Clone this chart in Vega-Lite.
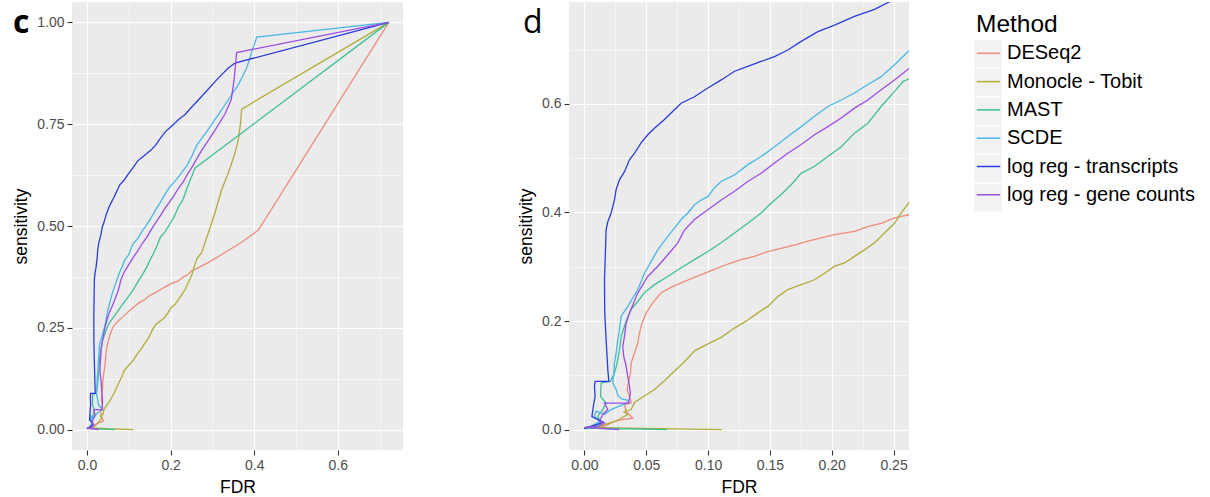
{
  "$schema": "https://vega.github.io/schema/vega-lite/v6.json",
  "padding": {"left": 12, "top": 2, "right": 5, "bottom": 2},
  "background": "white",
  "bounds": "flush",
  "spacing": 166,
  "config": {
    "view": {"fill": "#EBEBEB", "stroke": null},
    "font": "Liberation Sans",
    "axis": {
      "domain": false,
      "gridColor": "#FFFFFF",
      "labelColor": "#4D4D4D",
      "labelFontSize": 14,
      "labelFlush": false,
      "labelOverlap": false,
      "labelBound": false,
      "labelPadding": 3,
      "tickColor": "#333333",
      "tickSize": 5,
      "tickWidth": 1.1,
      "titleFontSize": 17.5,
      "titleFontWeight": "normal",
      "titleColor": "#000000",
      "titlePadding": 6
    }
  },
  "datasets": {
    "curves": [
      {"method":"DESeq2","i":0,"FDR":0,"sens":0.002},
      {"method":"DESeq2","i":1,"FDR":0.0162,"sens":0.006},
      {"method":"DESeq2","i":2,"FDR":0.0243,"sens":0.015},
      {"method":"DESeq2","i":3,"FDR":0.0297,"sens":0.018},
      {"method":"DESeq2","i":4,"FDR":0.0391,"sens":0.021},
      {"method":"DESeq2","i":5,"FDR":0.0337,"sens":0.034},
      {"method":"DESeq2","i":6,"FDR":0.0324,"sens":0.046},
      {"method":"DESeq2","i":7,"FDR":0.0378,"sens":0.049},
      {"method":"DESeq2","i":8,"FDR":0.0364,"sens":0.061},
      {"method":"DESeq2","i":9,"FDR":0.0345,"sens":0.074},
      {"method":"DESeq2","i":10,"FDR":0.0356,"sens":0.086},
      {"method":"DESeq2","i":11,"FDR":0.0372,"sens":0.104},
      {"method":"DESeq2","i":12,"FDR":0.0378,"sens":0.123},
      {"method":"DESeq2","i":13,"FDR":0.0405,"sens":0.141},
      {"method":"DESeq2","i":14,"FDR":0.0432,"sens":0.160},
      {"method":"DESeq2","i":15,"FDR":0.0445,"sens":0.178},
      {"method":"DESeq2","i":16,"FDR":0.0465,"sens":0.196},
      {"method":"DESeq2","i":17,"FDR":0.050,"sens":0.215},
      {"method":"DESeq2","i":18,"FDR":0.055,"sens":0.233},
      {"method":"DESeq2","i":19,"FDR":0.062,"sens":0.252},
      {"method":"DESeq2","i":20,"FDR":0.070,"sens":0.262},
      {"method":"DESeq2","i":21,"FDR":0.080,"sens":0.272},
      {"method":"DESeq2","i":22,"FDR":0.092,"sens":0.283},
      {"method":"DESeq2","i":23,"FDR":0.105,"sens":0.295},
      {"method":"DESeq2","i":24,"FDR":0.116,"sens":0.305},
      {"method":"DESeq2","i":25,"FDR":0.1268,"sens":0.313},
      {"method":"DESeq2","i":26,"FDR":0.1375,"sens":0.319},
      {"method":"DESeq2","i":27,"FDR":0.1483,"sens":0.328},
      {"method":"DESeq2","i":28,"FDR":0.1591,"sens":0.334},
      {"method":"DESeq2","i":29,"FDR":0.1699,"sens":0.340},
      {"method":"DESeq2","i":30,"FDR":0.1807,"sens":0.347},
      {"method":"DESeq2","i":31,"FDR":0.1915,"sens":0.353},
      {"method":"DESeq2","i":32,"FDR":0.2023,"sens":0.359},
      {"method":"DESeq2","i":33,"FDR":0.2184,"sens":0.365},
      {"method":"DESeq2","i":34,"FDR":0.2292,"sens":0.374},
      {"method":"DESeq2","i":35,"FDR":0.240,"sens":0.380},
      {"method":"DESeq2","i":36,"FDR":0.2508,"sens":0.390},
      {"method":"DESeq2","i":37,"FDR":0.263,"sens":0.396},
      {"method":"DESeq2","i":38,"FDR":0.29,"sens":0.41},
      {"method":"DESeq2","i":39,"FDR":0.33,"sens":0.435},
      {"method":"DESeq2","i":40,"FDR":0.37,"sens":0.46},
      {"method":"DESeq2","i":41,"FDR":0.41,"sens":0.49},
      {"method":"DESeq2","i":42,"FDR":0.722,"sens":1.0},

      {"method":"Monocle - Tobit","i":0,"FDR":0.111,"sens":0},
      {"method":"Monocle - Tobit","i":1,"FDR":0,"sens":0.004},
      {"method":"Monocle - Tobit","i":2,"FDR":0.012,"sens":0.006},
      {"method":"Monocle - Tobit","i":3,"FDR":0.0243,"sens":0.015},
      {"method":"Monocle - Tobit","i":4,"FDR":0.0297,"sens":0.021},
      {"method":"Monocle - Tobit","i":5,"FDR":0.035,"sens":0.028},
      {"method":"Monocle - Tobit","i":6,"FDR":0.032,"sens":0.033},
      {"method":"Monocle - Tobit","i":7,"FDR":0.0378,"sens":0.037},
      {"method":"Monocle - Tobit","i":8,"FDR":0.0405,"sens":0.05},
      {"method":"Monocle - Tobit","i":9,"FDR":0.0485,"sens":0.062},
      {"method":"Monocle - Tobit","i":10,"FDR":0.0566,"sens":0.074},
      {"method":"Monocle - Tobit","i":11,"FDR":0.0647,"sens":0.09},
      {"method":"Monocle - Tobit","i":12,"FDR":0.0728,"sens":0.108},
      {"method":"Monocle - Tobit","i":13,"FDR":0.0809,"sens":0.125},
      {"method":"Monocle - Tobit","i":14,"FDR":0.089,"sens":0.145},
      {"method":"Monocle - Tobit","i":15,"FDR":0.0998,"sens":0.158},
      {"method":"Monocle - Tobit","i":16,"FDR":0.1106,"sens":0.17},
      {"method":"Monocle - Tobit","i":17,"FDR":0.1214,"sens":0.187},
      {"method":"Monocle - Tobit","i":18,"FDR":0.1321,"sens":0.202},
      {"method":"Monocle - Tobit","i":19,"FDR":0.1402,"sens":0.215},
      {"method":"Monocle - Tobit","i":20,"FDR":0.1483,"sens":0.227},
      {"method":"Monocle - Tobit","i":21,"FDR":0.1564,"sens":0.245},
      {"method":"Monocle - Tobit","i":22,"FDR":0.1645,"sens":0.258},
      {"method":"Monocle - Tobit","i":23,"FDR":0.1753,"sens":0.267},
      {"method":"Monocle - Tobit","i":24,"FDR":0.1861,"sens":0.276},
      {"method":"Monocle - Tobit","i":25,"FDR":0.1942,"sens":0.288},
      {"method":"Monocle - Tobit","i":26,"FDR":0.2023,"sens":0.301},
      {"method":"Monocle - Tobit","i":27,"FDR":0.2104,"sens":0.307},
      {"method":"Monocle - Tobit","i":28,"FDR":0.2184,"sens":0.319},
      {"method":"Monocle - Tobit","i":29,"FDR":0.2265,"sens":0.331},
      {"method":"Monocle - Tobit","i":30,"FDR":0.2346,"sens":0.344},
      {"method":"Monocle - Tobit","i":31,"FDR":0.2427,"sens":0.362},
      {"method":"Monocle - Tobit","i":32,"FDR":0.2508,"sens":0.38},
      {"method":"Monocle - Tobit","i":33,"FDR":0.2562,"sens":0.399},
      {"method":"Monocle - Tobit","i":34,"FDR":0.263,"sens":0.42},
      {"method":"Monocle - Tobit","i":35,"FDR":0.274,"sens":0.434},
      {"method":"Monocle - Tobit","i":36,"FDR":0.29,"sens":0.483},
      {"method":"Monocle - Tobit","i":37,"FDR":0.306,"sens":0.532},
      {"method":"Monocle - Tobit","i":38,"FDR":0.322,"sens":0.589},
      {"method":"Monocle - Tobit","i":39,"FDR":0.338,"sens":0.63},
      {"method":"Monocle - Tobit","i":40,"FDR":0.354,"sens":0.679},
      {"method":"Monocle - Tobit","i":41,"FDR":0.362,"sens":0.712},
      {"method":"Monocle - Tobit","i":42,"FDR":0.367,"sens":0.75},
      {"method":"Monocle - Tobit","i":43,"FDR":0.37,"sens":0.787},
      {"method":"Monocle - Tobit","i":44,"FDR":0.722,"sens":1.0},

      {"method":"MAST","i":0,"FDR":0.067,"sens":0},
      {"method":"MAST","i":1,"FDR":0,"sens":0.003},
      {"method":"MAST","i":2,"FDR":0.0081,"sens":0.006},
      {"method":"MAST","i":3,"FDR":0.0135,"sens":0.012},
      {"method":"MAST","i":4,"FDR":0.0108,"sens":0.025},
      {"method":"MAST","i":5,"FDR":0.0148,"sens":0.037},
      {"method":"MAST","i":6,"FDR":0.0175,"sens":0.049},
      {"method":"MAST","i":7,"FDR":0.013,"sens":0.061},
      {"method":"MAST","i":8,"FDR":0.0135,"sens":0.086},
      {"method":"MAST","i":9,"FDR":0.021,"sens":0.089},
      {"method":"MAST","i":10,"FDR":0.0243,"sens":0.104},
      {"method":"MAST","i":11,"FDR":0.0264,"sens":0.123},
      {"method":"MAST","i":12,"FDR":0.0283,"sens":0.147},
      {"method":"MAST","i":13,"FDR":0.0297,"sens":0.172},
      {"method":"MAST","i":14,"FDR":0.0337,"sens":0.2},
      {"method":"MAST","i":15,"FDR":0.038,"sens":0.222},
      {"method":"MAST","i":16,"FDR":0.0431,"sens":0.236},
      {"method":"MAST","i":17,"FDR":0.0485,"sens":0.252},
      {"method":"MAST","i":18,"FDR":0.0566,"sens":0.267},
      {"method":"MAST","i":19,"FDR":0.0674,"sens":0.282},
      {"method":"MAST","i":20,"FDR":0.0782,"sens":0.298},
      {"method":"MAST","i":21,"FDR":0.089,"sens":0.313},
      {"method":"MAST","i":22,"FDR":0.0998,"sens":0.328},
      {"method":"MAST","i":23,"FDR":0.1106,"sens":0.344},
      {"method":"MAST","i":24,"FDR":0.1214,"sens":0.362},
      {"method":"MAST","i":25,"FDR":0.1321,"sens":0.38},
      {"method":"MAST","i":26,"FDR":0.1429,"sens":0.399},
      {"method":"MAST","i":27,"FDR":0.151,"sens":0.417},
      {"method":"MAST","i":28,"FDR":0.1591,"sens":0.433},
      {"method":"MAST","i":29,"FDR":0.1672,"sens":0.451},
      {"method":"MAST","i":30,"FDR":0.1753,"sens":0.472},
      {"method":"MAST","i":31,"FDR":0.1861,"sens":0.485},
      {"method":"MAST","i":32,"FDR":0.1969,"sens":0.503},
      {"method":"MAST","i":33,"FDR":0.2077,"sens":0.521},
      {"method":"MAST","i":34,"FDR":0.2184,"sens":0.546},
      {"method":"MAST","i":35,"FDR":0.2292,"sens":0.564},
      {"method":"MAST","i":36,"FDR":0.24,"sens":0.595},
      {"method":"MAST","i":37,"FDR":0.2508,"sens":0.623},
      {"method":"MAST","i":38,"FDR":0.258,"sens":0.642},
      {"method":"MAST","i":39,"FDR":0.722,"sens":1.0},

      {"method":"SCDE","i":0,"FDR":0,"sens":0.002},
      {"method":"SCDE","i":1,"FDR":0.0054,"sens":0.006},
      {"method":"SCDE","i":2,"FDR":0.0121,"sens":0.015},
      {"method":"SCDE","i":3,"FDR":0.0081,"sens":0.025},
      {"method":"SCDE","i":4,"FDR":0.0094,"sens":0.034},
      {"method":"SCDE","i":5,"FDR":0.0162,"sens":0.028},
      {"method":"SCDE","i":6,"FDR":0.0216,"sens":0.037},
      {"method":"SCDE","i":7,"FDR":0.030,"sens":0.045},
      {"method":"SCDE","i":8,"FDR":0.036,"sens":0.05},
      {"method":"SCDE","i":9,"FDR":0.035,"sens":0.054},
      {"method":"SCDE","i":10,"FDR":0.0297,"sens":0.057},
      {"method":"SCDE","i":11,"FDR":0.027,"sens":0.063},
      {"method":"SCDE","i":12,"FDR":0.0256,"sens":0.074},
      {"method":"SCDE","i":13,"FDR":0.0229,"sens":0.086},
      {"method":"SCDE","i":14,"FDR":0.0237,"sens":0.104},
      {"method":"SCDE","i":15,"FDR":0.0243,"sens":0.123},
      {"method":"SCDE","i":16,"FDR":0.0256,"sens":0.141},
      {"method":"SCDE","i":17,"FDR":0.027,"sens":0.166},
      {"method":"SCDE","i":18,"FDR":0.0283,"sens":0.184},
      {"method":"SCDE","i":19,"FDR":0.0297,"sens":0.209},
      {"method":"SCDE","i":20,"FDR":0.035,"sens":0.227},
      {"method":"SCDE","i":21,"FDR":0.0432,"sens":0.258},
      {"method":"SCDE","i":22,"FDR":0.0485,"sens":0.288},
      {"method":"SCDE","i":23,"FDR":0.0593,"sens":0.331},
      {"method":"SCDE","i":24,"FDR":0.0674,"sens":0.356},
      {"method":"SCDE","i":25,"FDR":0.0728,"sens":0.371},
      {"method":"SCDE","i":26,"FDR":0.0782,"sens":0.387},
      {"method":"SCDE","i":27,"FDR":0.0836,"sens":0.399},
      {"method":"SCDE","i":28,"FDR":0.089,"sens":0.414},
      {"method":"SCDE","i":29,"FDR":0.0944,"sens":0.423},
      {"method":"SCDE","i":30,"FDR":0.0998,"sens":0.429},
      {"method":"SCDE","i":31,"FDR":0.105,"sens":0.445},
      {"method":"SCDE","i":32,"FDR":0.1106,"sens":0.457},
      {"method":"SCDE","i":33,"FDR":0.1214,"sens":0.469},
      {"method":"SCDE","i":34,"FDR":0.1321,"sens":0.488},
      {"method":"SCDE","i":35,"FDR":0.1429,"sens":0.503},
      {"method":"SCDE","i":36,"FDR":0.1537,"sens":0.521},
      {"method":"SCDE","i":37,"FDR":0.1645,"sens":0.54},
      {"method":"SCDE","i":38,"FDR":0.1753,"sens":0.558},
      {"method":"SCDE","i":39,"FDR":0.1861,"sens":0.577},
      {"method":"SCDE","i":40,"FDR":0.1969,"sens":0.595},
      {"method":"SCDE","i":41,"FDR":0.2077,"sens":0.607},
      {"method":"SCDE","i":42,"FDR":0.2184,"sens":0.62},
      {"method":"SCDE","i":43,"FDR":0.229,"sens":0.635},
      {"method":"SCDE","i":44,"FDR":0.24,"sens":0.65},
      {"method":"SCDE","i":45,"FDR":0.2508,"sens":0.672},
      {"method":"SCDE","i":46,"FDR":0.263,"sens":0.699},
      {"method":"SCDE","i":47,"FDR":0.285,"sens":0.73},
      {"method":"SCDE","i":48,"FDR":0.306,"sens":0.761},
      {"method":"SCDE","i":49,"FDR":0.338,"sens":0.81},
      {"method":"SCDE","i":50,"FDR":0.362,"sens":0.847},
      {"method":"SCDE","i":51,"FDR":0.382,"sens":0.888},
      {"method":"SCDE","i":52,"FDR":0.395,"sens":0.93},
      {"method":"SCDE","i":53,"FDR":0.406,"sens":0.964},
      {"method":"SCDE","i":54,"FDR":0.722,"sens":1.0},

      {"method":"log reg - transcripts","i":0,"FDR":0,"sens":0.002},
      {"method":"log reg - transcripts","i":1,"FDR":0.005,"sens":0.006},
      {"method":"log reg - transcripts","i":2,"FDR":0.011,"sens":0.01},
      {"method":"log reg - transcripts","i":3,"FDR":0.015,"sens":0.014},
      {"method":"log reg - transcripts","i":4,"FDR":0.006,"sens":0.024},
      {"method":"log reg - transcripts","i":5,"FDR":0.0076,"sens":0.049},
      {"method":"log reg - transcripts","i":6,"FDR":0.0086,"sens":0.061},
      {"method":"log reg - transcripts","i":7,"FDR":0.0081,"sens":0.08},
      {"method":"log reg - transcripts","i":8,"FDR":0.0086,"sens":0.089},
      {"method":"log reg - transcripts","i":9,"FDR":0.0197,"sens":0.089},
      {"method":"log reg - transcripts","i":10,"FDR":0.0189,"sens":0.11},
      {"method":"log reg - transcripts","i":11,"FDR":0.0175,"sens":0.166},
      {"method":"log reg - transcripts","i":12,"FDR":0.0164,"sens":0.215},
      {"method":"log reg - transcripts","i":13,"FDR":0.0162,"sens":0.276},
      {"method":"log reg - transcripts","i":14,"FDR":0.017,"sens":0.33},
      {"method":"log reg - transcripts","i":15,"FDR":0.0175,"sens":0.368},
      {"method":"log reg - transcripts","i":16,"FDR":0.0189,"sens":0.383},
      {"method":"log reg - transcripts","i":17,"FDR":0.0216,"sens":0.399},
      {"method":"log reg - transcripts","i":18,"FDR":0.0243,"sens":0.423},
      {"method":"log reg - transcripts","i":19,"FDR":0.0256,"sens":0.442},
      {"method":"log reg - transcripts","i":20,"FDR":0.0283,"sens":0.46},
      {"method":"log reg - transcripts","i":21,"FDR":0.0324,"sens":0.475},
      {"method":"log reg - transcripts","i":22,"FDR":0.0364,"sens":0.497},
      {"method":"log reg - transcripts","i":23,"FDR":0.0405,"sens":0.509},
      {"method":"log reg - transcripts","i":24,"FDR":0.0458,"sens":0.528},
      {"method":"log reg - transcripts","i":25,"FDR":0.0512,"sens":0.543},
      {"method":"log reg - transcripts","i":26,"FDR":0.0566,"sens":0.555},
      {"method":"log reg - transcripts","i":27,"FDR":0.0647,"sens":0.571},
      {"method":"log reg - transcripts","i":28,"FDR":0.0728,"sens":0.589},
      {"method":"log reg - transcripts","i":29,"FDR":0.0782,"sens":0.601},
      {"method":"log reg - transcripts","i":30,"FDR":0.089,"sens":0.613},
      {"method":"log reg - transcripts","i":31,"FDR":0.0998,"sens":0.629},
      {"method":"log reg - transcripts","i":32,"FDR":0.1106,"sens":0.644},
      {"method":"log reg - transcripts","i":33,"FDR":0.1214,"sens":0.66},
      {"method":"log reg - transcripts","i":34,"FDR":0.1321,"sens":0.669},
      {"method":"log reg - transcripts","i":35,"FDR":0.1429,"sens":0.678},
      {"method":"log reg - transcripts","i":36,"FDR":0.1537,"sens":0.687},
      {"method":"log reg - transcripts","i":37,"FDR":0.1645,"sens":0.699},
      {"method":"log reg - transcripts","i":38,"FDR":0.1753,"sens":0.715},
      {"method":"log reg - transcripts","i":39,"FDR":0.1888,"sens":0.733},
      {"method":"log reg - transcripts","i":40,"FDR":0.2023,"sens":0.745},
      {"method":"log reg - transcripts","i":41,"FDR":0.2184,"sens":0.761},
      {"method":"log reg - transcripts","i":42,"FDR":0.2346,"sens":0.774},
      {"method":"log reg - transcripts","i":43,"FDR":0.2468,"sens":0.788},
      {"method":"log reg - transcripts","i":44,"FDR":0.274,"sens":0.818},
      {"method":"log reg - transcripts","i":45,"FDR":0.314,"sens":0.863},
      {"method":"log reg - transcripts","i":46,"FDR":0.338,"sens":0.888},
      {"method":"log reg - transcripts","i":47,"FDR":0.354,"sens":0.9},
      {"method":"log reg - transcripts","i":48,"FDR":0.722,"sens":1.0},

      {"method":"log reg - gene counts","i":0,"FDR":0.028,"sens":0},
      {"method":"log reg - gene counts","i":1,"FDR":0,"sens":0.004},
      {"method":"log reg - gene counts","i":2,"FDR":0.0108,"sens":0.006},
      {"method":"log reg - gene counts","i":3,"FDR":0.0162,"sens":0.012},
      {"method":"log reg - gene counts","i":4,"FDR":0.0121,"sens":0.015},
      {"method":"log reg - gene counts","i":5,"FDR":0.0148,"sens":0.028},
      {"method":"log reg - gene counts","i":6,"FDR":0.0189,"sens":0.037},
      {"method":"log reg - gene counts","i":7,"FDR":0.0162,"sens":0.049},
      {"method":"log reg - gene counts","i":8,"FDR":0.0356,"sens":0.049},
      {"method":"log reg - gene counts","i":9,"FDR":0.0372,"sens":0.067},
      {"method":"log reg - gene counts","i":10,"FDR":0.0364,"sens":0.08},
      {"method":"log reg - gene counts","i":11,"FDR":0.035,"sens":0.098},
      {"method":"log reg - gene counts","i":12,"FDR":0.0337,"sens":0.117},
      {"method":"log reg - gene counts","i":13,"FDR":0.0318,"sens":0.135},
      {"method":"log reg - gene counts","i":14,"FDR":0.031,"sens":0.153},
      {"method":"log reg - gene counts","i":15,"FDR":0.0324,"sens":0.172},
      {"method":"log reg - gene counts","i":16,"FDR":0.0337,"sens":0.196},
      {"method":"log reg - gene counts","i":17,"FDR":0.0364,"sens":0.215},
      {"method":"log reg - gene counts","i":18,"FDR":0.0432,"sens":0.252},
      {"method":"log reg - gene counts","i":19,"FDR":0.0512,"sens":0.282},
      {"method":"log reg - gene counts","i":20,"FDR":0.0593,"sens":0.301},
      {"method":"log reg - gene counts","i":21,"FDR":0.0674,"sens":0.322},
      {"method":"log reg - gene counts","i":22,"FDR":0.0755,"sens":0.344},
      {"method":"log reg - gene counts","i":23,"FDR":0.081,"sens":0.368},
      {"method":"log reg - gene counts","i":24,"FDR":0.089,"sens":0.387},
      {"method":"log reg - gene counts","i":25,"FDR":0.0998,"sens":0.405},
      {"method":"log reg - gene counts","i":26,"FDR":0.1106,"sens":0.423},
      {"method":"log reg - gene counts","i":27,"FDR":0.1214,"sens":0.439},
      {"method":"log reg - gene counts","i":28,"FDR":0.1321,"sens":0.457},
      {"method":"log reg - gene counts","i":29,"FDR":0.1429,"sens":0.472},
      {"method":"log reg - gene counts","i":30,"FDR":0.1537,"sens":0.491},
      {"method":"log reg - gene counts","i":31,"FDR":0.1645,"sens":0.509},
      {"method":"log reg - gene counts","i":32,"FDR":0.1753,"sens":0.525},
      {"method":"log reg - gene counts","i":33,"FDR":0.1861,"sens":0.543},
      {"method":"log reg - gene counts","i":34,"FDR":0.1969,"sens":0.558},
      {"method":"log reg - gene counts","i":35,"FDR":0.2077,"sens":0.574},
      {"method":"log reg - gene counts","i":36,"FDR":0.2184,"sens":0.592},
      {"method":"log reg - gene counts","i":37,"FDR":0.2292,"sens":0.607},
      {"method":"log reg - gene counts","i":38,"FDR":0.24,"sens":0.626},
      {"method":"log reg - gene counts","i":39,"FDR":0.2508,"sens":0.644},
      {"method":"log reg - gene counts","i":40,"FDR":0.263,"sens":0.666},
      {"method":"log reg - gene counts","i":41,"FDR":0.274,"sens":0.685},
      {"method":"log reg - gene counts","i":42,"FDR":0.306,"sens":0.735},
      {"method":"log reg - gene counts","i":43,"FDR":0.33,"sens":0.775},
      {"method":"log reg - gene counts","i":44,"FDR":0.345,"sens":0.81},
      {"method":"log reg - gene counts","i":45,"FDR":0.352,"sens":0.86},
      {"method":"log reg - gene counts","i":46,"FDR":0.358,"sens":0.926},
      {"method":"log reg - gene counts","i":47,"FDR":0.722,"sens":1.0}
    ]
  },
  "hconcat": [
    {
      "width": 331,
      "height": 448,
      "title": {"text": "c", "anchor": "start", "frame": "group", "orient": "top", "offset": -63, "baseline": "alphabetic", "dx": -59, "fontSize": 32, "fontWeight": "bold", "font": "Open Sans", "color": "#000000"},
      "data": {"name": "curves"},
      "mark": {"type": "line", "strokeWidth": 1.3, "clip": true},
      "encoding": {
        "x": {"field": "FDR", "type": "quantitative", "title": "FDR",
          "scale": {"domain": [-0.036, 0.756], "nice": false, "zero": false},
          "axis": {"values": [0, 0.1, 0.2, 0.3, 0.4, 0.5, 0.6, 0.7],
            "labelExpr": "round(datum.value*10)%2==0 ? format(datum.value,'.1f') : ''",
            "gridWidth": {"condition": {"test": "round(datum.value*10)%2==0", "value": 1.1}, "value": 0.55},
            "tickOpacity": {"condition": {"test": "round(datum.value*10)%2==0", "value": 1}, "value": 0}}},
        "y": {"field": "sens", "type": "quantitative", "title": "sensitivity",
          "scale": {"domain": [-0.05, 1.05], "nice": false, "zero": false},
          "axis": {"values": [0, 0.125, 0.25, 0.375, 0.5, 0.625, 0.75, 0.875, 1],
            "labelExpr": "round(datum.value*8)%2==0 ? format(datum.value,'.2f') : ''",
            "gridWidth": {"condition": {"test": "round(datum.value*8)%2==0", "value": 1.1}, "value": 0.55},
            "tickOpacity": {"condition": {"test": "round(datum.value*8)%2==0", "value": 1}, "value": 0}}},
        "color": {"field": "method", "type": "nominal",
          "scale": {"domain": ["DESeq2", "Monocle - Tobit", "MAST", "SCDE", "log reg - transcripts", "log reg - gene counts"],
                    "range": ["#EE8D7B", "#B1AC3A", "#3FBF96", "#47B8E6", "#2B3BDD", "#9C4CE6"]},
          "legend": {"orient": "none", "legendX": 904, "legendY": 11, "zindex": 2, "title": "Method",
            "titleFontSize": 24.5, "titleFontWeight": "normal", "titleColor": "#000000", "titlePadding": 3.3,
            "labelFontSize": 20, "labelColor": "#000000", "labelOffset": 6, "labelLimit": 0,
            "symbolType": "stroke", "symbolSize": 550, "symbolStrokeWidth": 1.5, "rowPadding": 5.3}},
        "order": {"field": "i", "type": "quantitative"}
      }
    },
    {
      "width": 340,
      "height": 448,
      "title": {"text": "d", "anchor": "start", "frame": "group", "orient": "top", "offset": -63, "baseline": "alphabetic", "dx": -46, "fontSize": 32, "fontWeight": 500, "font": "Open Sans", "color": "#000000"},
      "data": {"name": "curves"},
      "encoding": {
        "x": {"field": "FDR", "type": "quantitative", "title": "FDR",
          "scale": {"domain": [-0.0125, 0.2625], "nice": false, "zero": false},
          "axis": {"values": [0, 0.025, 0.05, 0.075, 0.1, 0.125, 0.15, 0.175, 0.2, 0.225, 0.25],
            "labelExpr": "round(datum.value*40)%2==0 ? format(datum.value,'.2f') : ''",
            "gridWidth": {"condition": {"test": "round(datum.value*40)%2==0", "value": 1.1}, "value": 0.55},
            "tickOpacity": {"condition": {"test": "round(datum.value*40)%2==0", "value": 1}, "value": 0}}},
        "y": {"field": "sens", "type": "quantitative", "title": "sensitivity",
          "scale": {"domain": [-0.0375, 0.7875], "nice": false, "zero": false},
          "axis": {"values": [0, 0.1, 0.2, 0.3, 0.4, 0.5, 0.6, 0.7],
            "labelExpr": "round(datum.value*10)%2==0 ? format(datum.value,'.1f') : ''",
            "gridWidth": {"condition": {"test": "round(datum.value*10)%2==0", "value": 1.1}, "value": 0.55},
            "tickOpacity": {"condition": {"test": "round(datum.value*10)%2==0", "value": 1}, "value": 0}}}
      },
      "layer": [
        {
          "mark": {"type": "point", "opacity": 0, "filled": true, "clip": true},
          "encoding": {
            "fill": {"field": "method", "type": "nominal",
              "scale": {"domain": ["log reg - gene counts", "log reg - transcripts", "SCDE", "MAST", "Monocle - Tobit", "DESeq2"],
                        "range": ["#F2F2F2", "#F2F2F2", "#F2F2F2", "#F2F2F2", "#F2F2F2", "#F2F2F2"]},
              "legend": {"orient": "none", "legendX": 902, "legendY": 37.55, "zindex": 1, "title": null,
                "labelExpr": "''", "labelOffset": 0, "labelFontSize": 1,
                "symbolType": "square", "symbolSize": 756, "symbolOpacity": 1, "symbolStrokeWidth": 0,
                "symbolFillColor": "#F2F2F2", "rowPadding": 0.8}}
          }
        },
        {
          "mark": {"type": "line", "strokeWidth": 1.3, "clip": true},
          "encoding": {
            "color": {"field": "method", "type": "nominal"},
            "order": {"field": "i", "type": "quantitative"}
          }
        }
      ]
    }
  ]
}
